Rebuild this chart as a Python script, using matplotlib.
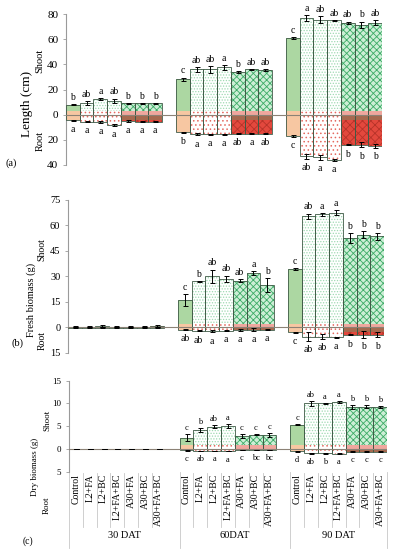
import numpy as np
import matplotlib
matplotlib.use('Agg')
import matplotlib.pyplot as plt
from matplotlib import transforms

plt.rcParams['font.family'] = ['Liberation Serif', 'DejaVu Serif']
plt.rcParams['hatch.linewidth'] = 0.6

treatments = ['Control', 'L2+FA', 'L2+BC', 'L2+FA+BC', 'A30+FA', 'A30+BC', 'A30+FA+BC']
stages = ['30 DAT', '60DAT', '90 DAT']

# (a) length, cm  (30, 60, 90 DAT, 7 treatments each)
len_shoot = [8, 9.5, 12.5, 11, 9, 9, 9,
             28, 36, 36, 37.5, 34, 36, 35.5,
             61, 77, 75.5, 75, 73, 71.5, 73]
len_shoot_err = [0.5, 1.5, 1, 1.8, 0.5, 0.5, 0.5,
                 1.5, 2, 3, 2, 0.5, 0.5, 0.8,
                 0.5, 2.5, 3, 0.5, 1, 2.5, 2]
len_root = [4.5, 5.5, 6, 8, 5, 5.5, 5.5,
            14, 15.5, 15.5, 15.5, 15, 15, 15,
            17, 33, 34, 36, 24, 24, 25]
len_root_err = [0.3, 0.5, 0.8, 0.8, 0.5, 0.5, 0.5,
                0.5, 1, 0.5, 0.5, 0.5, 0.5, 0.5,
                0.5, 2, 2, 0.5, 0.5, 2, 1.5]
len_shoot_sig = ['b', 'ab', 'a', 'ab', 'b', 'b', 'b',
                 'c', 'ab', 'ab', 'a', 'b', 'ab', 'ab',
                 'c', 'a', 'ab', 'ab', 'ab', 'b', 'ab']
len_root_sig = ['a', 'a', 'a', 'a', 'a', 'a', 'a',
                'b', 'a', 'a', 'a', 'ab', 'a', 'ab',
                'c', 'ab', 'a', 'a', 'b', 'b', 'b']

# (b) fresh biomass, g
fresh_shoot = [0.4, 0.3, 0.6, 0.3, 0.3, 0.3, 0.6,
               16, 27, 30, 28.5, 27.5, 32, 25,
               34.5, 65.5, 66.5, 67.5, 52.5, 54.5, 53.5]
fresh_shoot_err = [0.3, 0.3, 0.5, 0.3, 0.3, 0.3, 0.5,
                   3.5, 0.5, 4, 2, 1, 1, 4,
                   0.5, 1.5, 1, 1.5, 3, 2, 2]
fresh_root = [0.3, 0.3, 0.3, 0.3, 0.3, 0.3, 0.3,
              1.5, 2, 2.2, 2, 1.5, 1.5, 1.5,
              3, 5.5, 5.5, 6, 4.5, 4.5, 4.5]
fresh_root_err = [0.2, 0.2, 0.2, 0.2, 0.2, 0.2, 0.2,
                  0.3, 0.5, 0.8, 0.3, 0.5, 0.8, 0.3,
                  0.3, 2.5, 1.5, 0.5, 0.3, 2, 1.5]
fresh_shoot_sig = ['', '', '', '', '', '', '',
                   'c', 'b', 'ab', 'ab', 'ab', 'a', 'b',
                   'c', 'ab', 'a', 'a', 'b', 'b', 'b']
fresh_root_sig = ['', '', '', '', '', '', '',
                  'ab', 'ab', 'a', 'a', 'a', 'a', 'a',
                  'c', 'ab', 'ab', 'a', 'b', 'b', 'b']

# (c) dry biomass, g
dry_shoot = [0.05, 0.05, 0.05, 0.05, 0.05, 0.05, 0.05,
             2.5, 4.1, 4.9, 5.05, 2.9, 3.15, 3.0,
             5.3, 10.0, 10.0, 10.3, 9.2, 9.3, 9.3]
dry_shoot_err = [0.02, 0.02, 0.02, 0.02, 0.02, 0.02, 0.02,
                 0.7, 0.4, 0.3, 0.4, 0.4, 0.1, 0.4,
                 0.1, 0.5, 0.1, 0.2, 0.4, 0.3, 0.2]
dry_root = [0.03, 0.03, 0.03, 0.03, 0.03, 0.03, 0.03,
            0.3, 0.4, 0.4, 0.5, 0.25, 0.25, 0.25,
            0.5, 0.9, 0.9, 1.0, 0.6, 0.6, 0.6]
dry_root_err = [0.01, 0.01, 0.01, 0.01, 0.01, 0.01, 0.01,
                0.05, 0.05, 0.05, 0.05, 0.05, 0.05, 0.05,
                0.1, 0.1, 0.1, 0.1, 0.1, 0.1, 0.1]
dry_shoot_sig = ['', '', '', '', '', '', '',
                 'c', 'b', 'ab', 'a', 'c', 'c', 'c',
                 'c', 'ab', 'a', 'a', 'b', 'b', 'b']
dry_root_sig = ['', '', '', '', '', '', '',
                'c', 'ab', 'a', 'a', 'c', 'bc', 'bc',
                'd', 'ab', 'b', 'a', 'c', 'c', 'c']

W, H = 397, 550
xs = [g * 8 + i for g in range(len(stages)) for i in range(len(treatments))]

EDGE = '#3f5a46'
# (face, hatch, hatch colour) for shoot and root of each treatment type
SHOOT_STYLE = {0: ('#acd7a2', None, None),
               1: ('white', '......', '#9fdab2'),
               2: ('#cdeed6', 'xxxxx', '#3cab66')}
ROOT_STYLE = {0: ('#f7c7a2', None, None),
              1: ('white', '....', '#e46a60'),
              2: ('#e3483d', 'xxxx', '#b73329')}


def kind(i):
    t = i % 7
    return 0 if t == 0 else (1 if t <= 3 else 2)


def fx(px):
    return px / W


def fy(py):
    return 1 - py / H


def layer(ax, x, h, b, style):
    face, hatch, hc = style
    if hatch:
        ax.bar(x, h, 1.0, bottom=b, color=face, edgecolor=hc, hatch=hatch, linewidth=0, zorder=2)
    else:
        ax.bar(x, h, 1.0, bottom=b, color=face, linewidth=0, zorder=2)


def draw_panel(ax, shoot, s_err, root, r_err, s_sig, r_sig, ymin, ymax, step, fs, tfs):
    ax.set_xlim(-0.5, 22.5)
    ax.set_ylim(ymin, ymax)
    upx = ax.bbox.height / (ymax - ymin)
    off = 3.5 / upx
    off2 = 5 / upx
    for i, x in enumerate(xs):
        k = kind(i)
        s, r = shoot[i], root[i]
        layer(ax, x, s, 0, SHOOT_STYLE[k])
        ax.bar(x, s, 1.0, fill=False, edgecolor=EDGE, linewidth=0.6, zorder=3)
        b0 = min(off, s)
        layer(ax, x, -r - b0, b0, ROOT_STYLE[k])
        if k == 2:
            ax.bar(x, b0, 1.0, color='#efa79e', linewidth=0, zorder=2)
            ax.bar(x, -min(off2, r), 1.0, color='#a7694f', linewidth=0, zorder=2)
        ax.bar(x, -r, 1.0, fill=False, edgecolor=EDGE, linewidth=0.6, zorder=3)
    ax.axhline(0, color='#8c8276', lw=0.8, zorder=4)
    ax.errorbar(xs, shoot, yerr=s_err, fmt='none', ecolor='black', elinewidth=0.7,
                capsize=1.8, capthick=0.7, zorder=5)
    ax.errorbar(xs, [-r for r in root], yerr=r_err, fmt='none', ecolor='black',
                elinewidth=0.7, capsize=1.8, capthick=0.7, zorder=5)
    for x, v, e, t in zip(xs, shoot, s_err, s_sig):
        if t:
            ax.annotate(t, (x, v + e), xytext=(0, 1.5), textcoords='offset points',
                        ha='center', va='bottom', fontsize=fs)
    for x, v, e, t in zip(xs, root, r_err, r_sig):
        if t:
            ax.annotate(t, (x, -v - e), xytext=(0, -3), textcoords='offset points',
                        ha='center', va='top', fontsize=fs)
    ticks = np.arange(ymin, ymax + step / 2, step)
    ax.set_yticks(ticks)
    ax.set_yticklabels(['%g' % abs(t) for t in ticks])
    ax.set_xticks([])
    for sp in ['top', 'right', 'bottom']:
        ax.spines[sp].set_visible(False)
    ax.spines['left'].set_color('#9a9a9a')
    ax.spines['left'].set_linewidth(0.8)
    ax.tick_params(axis='y', direction='out', length=2.5, width=0.6, color='#9a9a9a',
                   labelsize=tfs, pad=3)
    ax.patch.set_alpha(0)


fig = plt.figure(figsize=(W / 100, H / 100), dpi=100)

ax_a = fig.add_axes([fx(66), fy(165), fx(382 - 66), (165 - 14) / H])
draw_panel(ax_a, len_shoot, len_shoot_err, len_root, len_root_err,
           len_shoot_sig, len_root_sig, -40, 80, 20, 7, 8)
fig.text(fx(27), fy(104), 'Length (cm)', rotation=90, ha='center', va='center', fontsize=9.5)
fig.text(fx(40), fy(61), 'Shoot', rotation=90, ha='center', va='center', fontsize=7.5)
fig.text(fx(40), fy(141), 'Root', rotation=90, ha='center', va='center', fontsize=7.5)
fig.text(fx(11), fy(163), '(a)', ha='center', va='center', fontsize=7.5)

ax_b = fig.add_axes([fx(68), fy(352.7), fx(384 - 68), (352.7 - 200) / H])
draw_panel(ax_b, fresh_shoot, fresh_shoot_err, fresh_root, fresh_root_err,
           fresh_shoot_sig, fresh_root_sig, -15, 75, 15, 7, 7.5)
fig.text(fx(31), fy(300), 'Fresh biomass (g)', rotation=90, ha='center', va='center', fontsize=7.5)
fig.text(fx(42), fy(250), 'Shoot', rotation=90, ha='center', va='center', fontsize=7)
fig.text(fx(42), fy(341), 'Root', rotation=90, ha='center', va='center', fontsize=7)
fig.text(fx(18), fy(343), '(b)', ha='center', va='center', fontsize=7.5)

ax_c = fig.add_axes([fx(69), fy(471.7), fx(387 - 69), (471.7 - 380.7) / H])
draw_panel(ax_c, dry_shoot, dry_shoot_err, dry_root, dry_root_err,
           dry_shoot_sig, dry_root_sig, -5, 15, 5, 6, 6.5)
fig.text(fx(35), fy(467), 'Dry biomass (g)', rotation=90, ha='center', va='center', fontsize=6.5)
fig.text(fx(47), fy(420), 'Shoot', rotation=90, ha='center', va='center', fontsize=6.5)
fig.text(fx(47), fy(505), 'Root', rotation=90, ha='center', va='center', fontsize=6.5)
fig.text(fx(28), fy(541), '(c)', ha='center', va='center', fontsize=7)

# multi-level category axis below panel (c)
tr = transforms.blended_transform_factory(ax_c.transData, fig.transFigure)
for i, x in enumerate(xs):
    ax_c.text(x, fy(474), treatments[i % 7], rotation=90, ha='center', va='top',
              fontsize=7, transform=tr, clip_on=False)
for g in range(len(stages)):
    for i in range(1, 7):
        ax_c.plot([g * 8 + i - 0.5] * 2, [fy(473), fy(527)], color='#c8c8c8', lw=0.6,
                  transform=tr, clip_on=False)
    ax_c.text(g * 8 + (3.5 if g < 2 else 3), fy(536), stages[g], ha='center', va='center',
              fontsize=7.5, transform=tr, clip_on=False)
for xb in [-0.5, 7.5, 15.5, 22.5]:
    ax_c.plot([xb, xb], [fy(471.7), fy(548)], color='#c8c8c8', lw=0.6,
              transform=tr, clip_on=False)

fig.savefig('out.png', dpi=100)
